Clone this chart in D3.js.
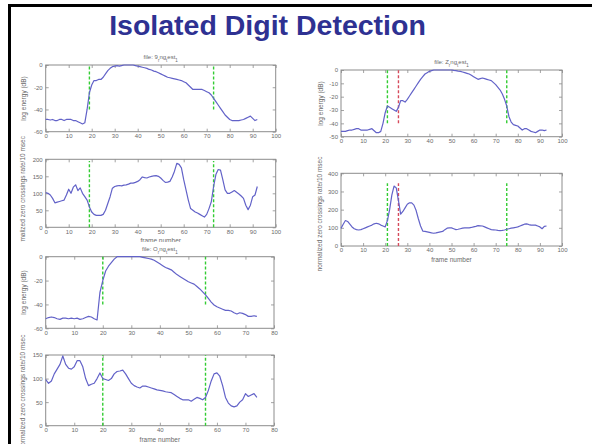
<!DOCTYPE html>
<html>
<head>
<meta charset="utf-8">
<script src="https://cdn.jsdelivr.net/npm/d3@7"></script>
<style>
  html, body { margin: 0; padding: 0; background: #fff; }
  svg { display: block; }
</style>
</head>
<body>
<svg id="slide" width="592" height="444"></svg>
<script>
// ---- slide text ----
const slideTitle = "Isolated Digit Detection";
const energyLabel = "log energy (dB)";
const zcrLabel = "normalized zero crossings rate/10 msec";
const frameLabel = "frame number";

// ---- utterance "9": log energy (dB) and zero crossing rate per frame (frame = index) ----
const energyNine = [
  -49,-49,-49.5,-49,-50,-50,-49,-49,-50,-49,
  -49,-49,-50,-50,-51,-52,-53,-52,-40,-25,
  -18,-14,-14,-13,-13,-11,-8,-5,-3,-1.5,
  -1,-0.5,-1,-0.5,0,0,0,0,0,-0.5,
  -1,-1.5,-2,-2.5,-3,-4,-4.5,-5.5,-6,-7,
  -8,-9,-10,-11,-11.5,-12,-12.5,-13,-13.5,-14,
  -15,-16,-18,-20,-22,-22,-22,-22,-22,-23,
  -24,-25,-27,-30,-33,-36,-39,-42,-45,-47,
  -49,-50,-50,-50,-50,-49.5,-49,-48,-47,-46,
  -48,-50,-49
];
const zcrNine = [
  102,100,95,85,72,74,76,78,80,95,
  112,100,118,125,108,116,100,90,80,60,
  45,38,35,35,35,38,50,70,90,115,
  120,122,123,122,124,125,127,130,130,132,
  135,140,148,146,145,148,150,151,152,150,
  145,138,132,133,135,148,165,188,185,175,
  140,110,80,55,50,45,42,38,34,30,
  38,55,75,120,155,170,168,140,110,100,
  100,104,108,103,98,92,85,65,52,65,
  90,95,120
];
const endpointsNine = [19, 73];

// ---- utterance "O" ----
const energyOh = [
  -52,-51,-50.5,-51,-52,-52.5,-51.5,-51.5,-52,-51.5,
  -52,-51.5,-52.5,-52,-51,-50,-50.5,-52,-53,-30,
  -20,-12,-8,-5,-2,0,0,0,0,0,
  0,0,0,0,-0.5,-1,-1.5,-2,-3,-4.5,
  -6,-7.5,-9,-10,-11,-13,-15,-16.5,-18,-19.5,
  -21,-22,-23,-25,-27,-29.5,-32,-35,-38,-40.5,
  -42,-43,-44,-45,-45,-45.5,-47,-48,-47,-47.5,
  -48.5,-50,-50,-49.5,-50
];
const zcrOh = [
  98,90,95,110,120,130,148,130,122,120,
  125,138,138,125,100,85,88,90,100,112,
  100,98,96,100,110,115,116,118,110,100,
  90,85,82,80,84,84,82,80,78,76,
  75,74,72,71,70,66,62,58,55,55,
  55,52,56,60,58,55,60,75,95,110,
  112,105,85,60,48,42,40,42,50,55,
  68,62,65,68,60
];
const endpointsOh = [20, 56];

// ---- utterance "Z" (zero) ----
const energyZero = [
  -46,-46,-46,-45.5,-45,-45,-44.5,-44,-44,-45,
  -45,-45,-45,-44.5,-44,-45.5,-47,-47,-46,-40,
  -32,-27,-28,-29,-30,-31,-28,-23,-23,-24,
  -22,-19.5,-17,-14.5,-12,-9.5,-7,-5,-3,-2,
  -1,-0.5,0,0,0,0,0,0,0,0,
  0,-0.3,-0.5,-0.8,-1,-1.5,-2,-2.5,-3,-4,
  -5,-6,-7,-6.5,-6,-6.5,-7,-7.5,-8,-9.5,
  -11,-13,-15,-18,-22,-27,-35,-39,-41,-41.5,
  -42,-43.5,-45,-44,-44,-45,-46,-46.5,-47,-46,
  -45,-45,-45.5,-45
];
const zcrZero = [
  97,120,140,135,120,105,95,90,88,90,
  95,100,105,110,115,122,125,122,115,110,
  105,140,200,280,330,320,250,175,190,210,
  230,238,237,225,195,150,110,82,80,78,
  75,72,70,72,75,78,80,90,98,100,
  100,95,90,92,95,98,100,100,100,102,
  105,108,112,111,110,105,100,95,90,89,
  88,86,85,86,88,92,95,98,100,102,
  105,110,115,120,122,118,115,115,115,110,
  105,95,108,110
];
const endpointsZero = [21, 75];
const correctedStartZero = [26];

// ---- axis ticks ----
const frameTicks100 = [0,10,20,30,40,50,60,70,80,90,100];
const frameTicks80 = [0,10,20,30,40,50,60,70,80];
const energyTicks60 = [-60,-40,-20,0];
const energyTicks50 = [-50,-40,-30,-20,-10,0];
const zcrTicks200 = [0,50,100,150,200];
const zcrTicks150 = [0,50,100,150];
const zcrTicks400 = [0,100,200,300,400];

// file name pieces: [text, isSubscript]
const fileNine = [["file: 9",0],["r",1],["ng",0],["t",1],["est",0],["1",1]];
const fileOh   = [["file: O",0],["r",1],["ng",0],["t",1],["est",0],["1",1]];
const fileZero = [["file: Z",0],["r",1],["ng",0],["t",1],["est",0],["1",1]];

// ---- drawing ----
const svg = d3.select("#slide");
const FONT = "'Liberation Sans', Arial, sans-serif";
const LINE = "#6262c8";
const GREEN = "#33cc33";
const RED = "#d64a5c";
const BOX = "#8c8c8c";
const TXT = "#6a6a6a";

svg.append("rect").attr("width", 592).attr("height", 444).attr("fill", "#fff");

// slide frame
svg.append("rect").attr("x", 8).attr("y", 4).attr("width", 584).attr("height", 3).attr("fill", "#000");
svg.append("rect").attr("x", 8).attr("y", 4).attr("width", 3).attr("height", 440).attr("fill", "#000");

svg.append("text")
  .attr("x", 267.5).attr("y", 35)
  .attr("text-anchor", "middle")
  .attr("font-family", FONT).attr("font-weight", "bold")
  .attr("font-size", 28.5).attr("fill", "#2e3192")
  .text(slideTitle);

const defs = svg.append("defs");
function figure(id, x, y, w, h) {
  defs.append("clipPath").attr("id", id)
    .append("rect").attr("x", x).attr("y", y).attr("width", w).attr("height", h);
  return svg.append("g").attr("clip-path", `url(#${id})`);
}

function panel(g, o) {
  const x = d3.scaleLinear().domain(o.xDomain).range([o.left, o.right]);
  const y = d3.scaleLinear().domain(o.yDomain).range([o.bottom, o.top]);
  const fmt = d => String(d);

  const ax = g.append("g").attr("font-family", FONT);
  const style = sel => {
    sel.select(".domain").remove();
    sel.selectAll(".tick line").attr("stroke", BOX).attr("stroke-width", 0.8);
    sel.selectAll(".tick text").attr("fill", TXT).attr("font-size", 6).attr("font-family", FONT);
  };
  ax.append("g").attr("transform", `translate(0,${o.bottom})`)
    .call(d3.axisBottom(x).tickValues(o.xTicks).tickSize(-3).tickPadding(2).tickFormat(fmt)).call(style);
  ax.append("g").attr("transform", `translate(0,${o.top})`)
    .call(d3.axisTop(x).tickValues(o.xTicks).tickSize(-3).tickFormat("")).call(style);
  ax.append("g").attr("transform", `translate(${o.left},0)`)
    .call(d3.axisLeft(y).tickValues(o.yTicks).tickSize(-3).tickPadding(3).tickFormat(fmt)).call(style);
  ax.append("g").attr("transform", `translate(${o.right},0)`)
    .call(d3.axisRight(y).tickValues(o.yTicks).tickSize(-3).tickFormat("")).call(style);

  g.append("rect")
    .attr("x", o.left).attr("y", o.top)
    .attr("width", o.right - o.left).attr("height", o.bottom - o.top)
    .attr("fill", "none").attr("stroke", BOX).attr("stroke-width", 1);

  // endpoint markers
  (o.markers || []).forEach(m => {
    m.at.forEach(f => {
      g.append("line")
        .attr("x1", x(f)).attr("x2", x(f))
        .attr("y1", y(m.from)).attr("y2", y(m.to))
        .attr("stroke", m.color).attr("stroke-width", 1.4)
        .attr("stroke-dasharray", "3,2");
    });
  });

  const line = d3.line().x((d, i) => x(i)).y(d => y(d));
  g.append("path").datum(o.values)
    .attr("d", line)
    .attr("fill", "none").attr("stroke", LINE).attr("stroke-width", 1.2)
    .attr("stroke-linejoin", "round");

  // y label
  g.append("text")
    .attr("transform", `translate(${o.yLabelX},${o.yLabelY}) rotate(-90)`)
    .attr("text-anchor", "middle")
    .attr("font-family", FONT).attr("font-size", 6.5).attr("fill", TXT)
    .text(o.yLabel);

  if (o.title) {
    const t = g.append("text")
      .attr("x", (o.left + o.right) / 2).attr("y", o.top - 6)
      .attr("text-anchor", "middle")
      .attr("font-family", FONT).attr("font-size", 6).attr("fill", TXT);
    o.title.forEach(([s, sub]) => {
      const ts = t.append("tspan").text(s);
      if (sub) ts.attr("font-size", 4.5).attr("baseline-shift", "sub");
    });
  }
  if (o.xLabel) {
    g.append("text")
      .attr("x", (o.left + o.right) / 2).attr("y", o.bottom + 16)
      .attr("text-anchor", "middle")
      .attr("font-family", FONT).attr("font-size", 6.5).attr("fill", TXT)
      .text(o.xLabel);
  }
}

// left column, top figure: digit 9
const figNine = figure("figNine", 12, 48, 290, 194);
panel(figNine, {
  left: 45.7, right: 275.7, top: 65, bottom: 131.7,
  xDomain: [0, 100], yDomain: [-60, 0], xTicks: frameTicks100, yTicks: energyTicks60,
  values: energyNine, title: fileNine,
  yLabel: energyLabel, yLabelX: 26, yLabelY: 98.5,
  markers: [{ at: endpointsNine, from: -40, to: 0, color: GREEN }]
});
panel(figNine, {
  left: 45.7, right: 275.7, top: 159.3, bottom: 227.3,
  xDomain: [0, 100], yDomain: [0, 200], xTicks: frameTicks100, yTicks: zcrTicks200,
  values: zcrNine, xLabel: frameLabel,
  yLabel: zcrLabel, yLabelX: 25, yLabelY: 193.5,
  markers: [{ at: endpointsNine, from: 0, to: 195, color: GREEN }]
});

// left column, bottom figure: digit O
const figOh = figure("figOh", 12, 242, 290, 202);
panel(figOh, {
  left: 45.7, right: 274, top: 256.7, bottom: 328.3,
  xDomain: [0, 80], yDomain: [-60, 0], xTicks: frameTicks80, yTicks: energyTicks60,
  values: energyOh, title: fileOh,
  yLabel: energyLabel, yLabelX: 26, yLabelY: 292.5,
  markers: [{ at: endpointsOh, from: -40, to: 0, color: GREEN }]
});
panel(figOh, {
  left: 45.7, right: 274, top: 355, bottom: 425.7,
  xDomain: [0, 80], yDomain: [0, 150], xTicks: frameTicks80, yTicks: zcrTicks150,
  values: zcrOh, xLabel: frameLabel,
  yLabel: zcrLabel, yLabelX: 25, yLabelY: 392,
  markers: [{ at: endpointsOh, from: 0, to: 150, color: GREEN }]
});

// right column: digit Z
const figZero = figure("figZero", 302, 48, 290, 228);
panel(figZero, {
  left: 341, right: 562, top: 70, bottom: 136.7,
  xDomain: [0, 100], yDomain: [-50, 0], xTicks: frameTicks100, yTicks: energyTicks50,
  values: energyZero, title: fileZero,
  yLabel: energyLabel, yLabelX: 323, yLabelY: 103.5,
  markers: [
    { at: endpointsZero, from: -40, to: 0, color: GREEN },
    { at: correctedStartZero, from: -40, to: 0, color: RED }
  ]
});
panel(figZero, {
  left: 341, right: 562, top: 173.3, bottom: 246,
  xDomain: [0, 100], yDomain: [0, 400], xTicks: frameTicks100, yTicks: zcrTicks400,
  values: zcrZero, xLabel: frameLabel,
  yLabel: zcrLabel, yLabelX: 321.5, yLabelY: 214,
  markers: [
    { at: endpointsZero, from: 0, to: 345, color: GREEN },
    { at: correctedStartZero, from: 0, to: 345, color: RED }
  ]
});
</script>
</body>
</html>
